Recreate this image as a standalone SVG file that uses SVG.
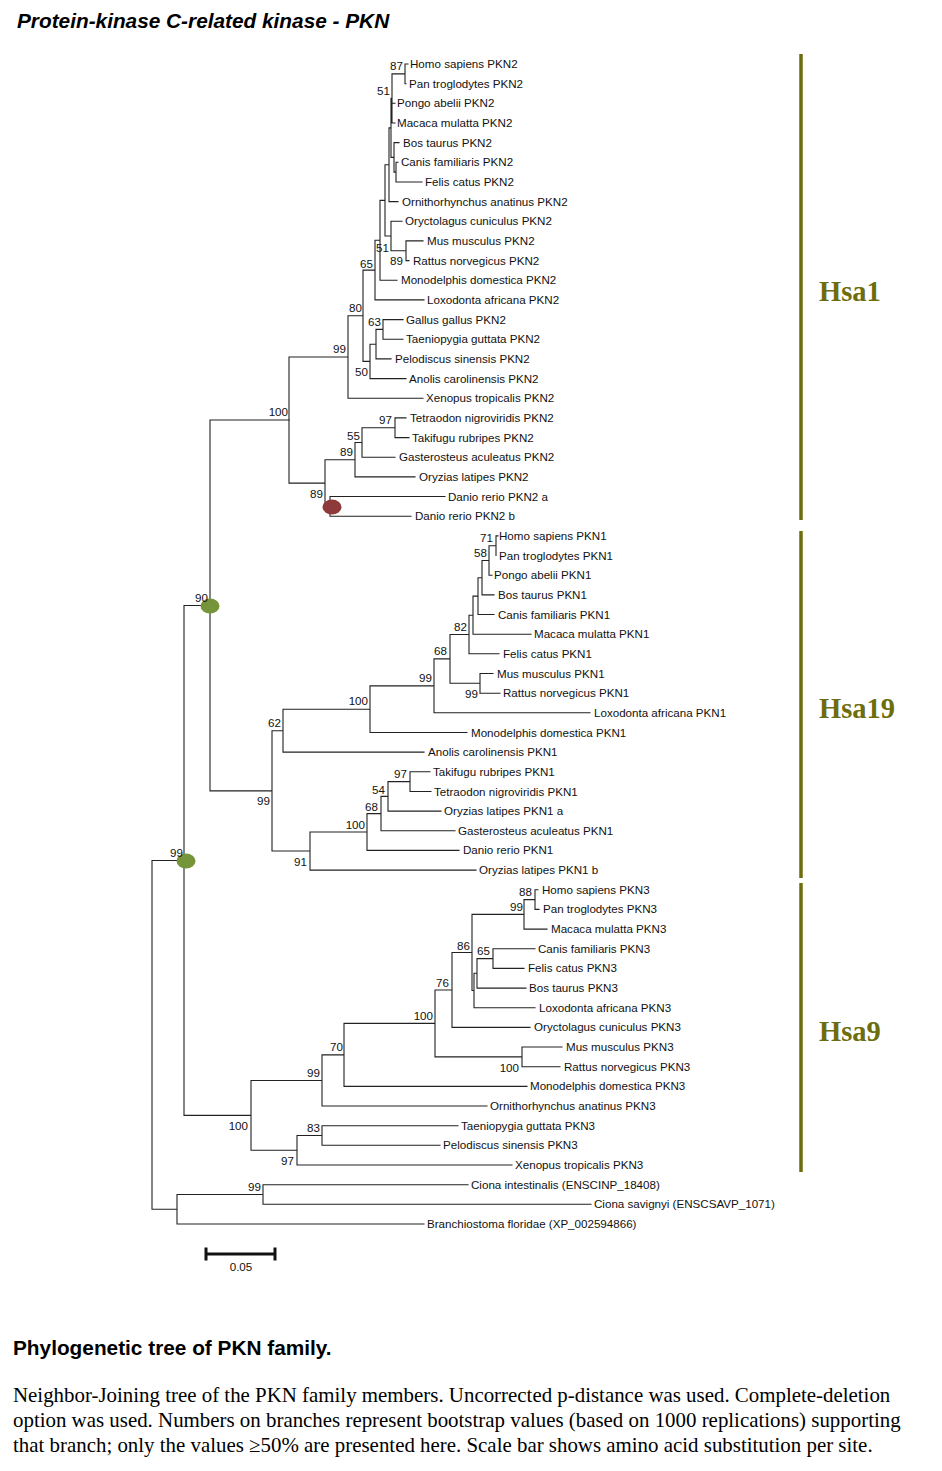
<svg xmlns="http://www.w3.org/2000/svg" width="942" height="1471" viewBox="0 0 942 1471">
<style>
.br{fill:none;stroke:#222;stroke-width:1.1;stroke-linecap:square}
.lf{font-family:"Liberation Sans",Arial,sans-serif;font-size:11.6px;fill:#111}
.bs{font-family:"Liberation Sans",Arial,sans-serif;font-size:11.6px;fill:#111;text-anchor:end}
.hsa{font-family:"Liberation Serif","Times New Roman",serif;font-weight:bold;font-size:28.5px;fill:#6e6d0e}
.bar{stroke:#6e6d0e;stroke-width:3.5}
.cap{font-family:"Liberation Serif","Times New Roman",serif;font-size:20.9px;fill:#000}
</style>
<rect width="942" height="1471" fill="#fff"/>
<text x="17" y="28" font-family="Liberation Sans, Arial, sans-serif" font-size="20.8" font-weight="bold" font-style="italic">Protein-kinase C-related kinase - PKN</text>

<g id="connectors">
<path class="br" d="M405 64V83.7M405 64H408M405 83.7H406
M392 73.9V123M392 73.9H405M392 103.3H395M392 123H395
M396 162.3V182M396 162.3H398M396 182H422
M394 142.6V172.1M394 142.6H399M394 172.1H396
M391 98.4V157.4M391 98.4H392M391 157.4H394
M389 127.9V201.6M389 127.9H391M389 201.6H398
M406 240.9V260.6M406 240.9H423M406 260.6H409
M391 221.3V250.8M391 221.3H402M391 250.8H406
M385 164.8V236M385 164.8H389M385 236H391
M380 200.4V280.3M380 200.4H385M380 280.3H397
M375 240.3V299.9M375 240.3H380M375 299.9H424
M383 319.6V339.3M383 319.6H403M383 339.3H403
M376 329.4V358.9M376 329.4H383M376 358.9H391
M370 344.2V378.6M370 344.2H376M370 378.6H406
M363 270.1V361.4M363 270.1H375M363 361.4H370
M348 315.8V398.2M348 315.8H363M348 398.2H423
M395 417.9V437.6M395 417.9H406M395 437.6H409
M362 427.7V457.2M362 427.7H395M362 457.2H395
M355 442.5V476.9M355 442.5H362M355 476.9H415
M330 496.5V516.2M330 496.5H445M330 516.2H411
M325 459.7V506.4M325 459.7H355M325 506.4H330
M289 357V483.1M289 357H348M289 483.1H325"/>
<path class="br" d="M496 535.9V555.5M496 535.9H498
M489 545.7V575.2M489 545.7H496M489 575.2H492
M482 560.5V594.9M482 560.5H489M482 594.9H494
M478 577.7V614.5M478 577.7H482M478 614.5H494
M473 596.1V634.2M473 596.1H478M473 634.2H531
M469 615.2V653.8M469 615.2H473M469 653.8H499
M480 673.5V693.2M480 673.5H493M480 693.2H500
M450 634.5V683.3M450 634.5H469M450 683.3H480
M434 658.9V712.8M434 658.9H450M434 712.8H590
M370 685.9V732.5M370 685.9H434M370 732.5H467
M283 709.2V752.1M283 709.2H370M283 752.1H424
M410 771.8V791.5M410 771.8H430M410 791.5H431
M388 781.6V811.1M388 781.6H410M388 811.1H441
M381 796.4V830.8M381 796.4H388M381 830.8H455
M367 813.6V850.4M367 813.6H381M367 850.4H459
M310 832V870.1M310 832H367M310 870.1H476
M272 730.7V851M272 730.7H283M272 851H310
M210 420V790.9M210 420H289M210 790.9H272"/>
<path class="br" d="M535 889.8V909.4M535 889.8H538M535 909.4H539
M524 899.6V929.1M524 899.6H535M524 929.1H547
M493 948.7V968.4M493 948.7H535M493 968.4H524
M477 958.6V988.1M477 958.6H493M477 988.1H526
M474 973.3V1007.7M474 973.3H477M474 1007.7H535
M472 914.4V990.5M472 914.4H524M472 990.5H474
M452 952.5V1027.4M452 952.5H472M452 1027.4H530
M522 1047V1066.7M522 1047H562M522 1066.7H560
M435 990V1056.9M435 990H452M435 1056.9H522
M344 1023.4V1086.4M344 1023.4H435M344 1086.4H527
M322 1054.9V1106M322 1054.9H344M322 1106H487
M322 1125.7V1145.3M322 1125.7H458M322 1145.3H440
M297 1135.5V1165M297 1135.5H322M297 1165H512
M251 1080.5V1150.3M251 1080.5H322M251 1150.3H297
M184 605.5V1115.4M184 605.5H210M184 1115.4H251
M263 1184.7V1204.3M263 1184.7H468M263 1204.3H591
M177 1194.5V1224M177 1194.5H263M177 1224H424
M152 860.5V1209.2M152 860.5H184M152 1209.2H177"/>
</g>

<g id="node-markers">
<ellipse cx="332" cy="507" rx="9.5" ry="7.5" fill="#8e3a3a"/>
<ellipse cx="210" cy="606" rx="9.5" ry="7.5" fill="#76953a"/>
<ellipse cx="186" cy="861" rx="9.5" ry="7.5" fill="#76953a"/>
</g>

<g id="bootstrap">
<text class="bs" x="403" y="70">87</text>
<text class="bs" x="390" y="95">51</text>
<text class="bs" x="389" y="252">51</text>
<text class="bs" x="403" y="265">89</text>
<text class="bs" x="373" y="268">65</text>
<text class="bs" x="362" y="312">80</text>
<text class="bs" x="381" y="326">63</text>
<text class="bs" x="346" y="353">99</text>
<text class="bs" x="368" y="376">50</text>
<text class="bs" x="288" y="416">100</text>
<text class="bs" x="392" y="424">97</text>
<text class="bs" x="360" y="440">55</text>
<text class="bs" x="353" y="456">89</text>
<text class="bs" x="323" y="498">89</text>
<text class="bs" x="208" y="602">90</text>
<text class="bs" x="493" y="542">71</text>
<text class="bs" x="487" y="557">58</text>
<text class="bs" x="467" y="631">82</text>
<text class="bs" x="447" y="655">68</text>
<text class="bs" x="478" y="698">99</text>
<text class="bs" x="432" y="682">99</text>
<text class="bs" x="368" y="705">100</text>
<text class="bs" x="281" y="727">62</text>
<text class="bs" x="407" y="778">97</text>
<text class="bs" x="385" y="794">54</text>
<text class="bs" x="378" y="811">68</text>
<text class="bs" x="365" y="829">100</text>
<text class="bs" x="270" y="805">99</text>
<text class="bs" x="307" y="866">91</text>
<text class="bs" x="183" y="857">99</text>
<text class="bs" x="532" y="896">88</text>
<text class="bs" x="523" y="911">99</text>
<text class="bs" x="470" y="950">86</text>
<text class="bs" x="490" y="955">65</text>
<text class="bs" x="449" y="987">76</text>
<text class="bs" x="433" y="1020">100</text>
<text class="bs" x="519" y="1072">100</text>
<text class="bs" x="343" y="1051">70</text>
<text class="bs" x="320" y="1077">99</text>
<text class="bs" x="248" y="1130">100</text>
<text class="bs" x="320" y="1132">83</text>
<text class="bs" x="294" y="1165">97</text>
<text class="bs" x="261" y="1191">99</text>
</g>

<g id="leaf-hsa-pkn2"><text class="lf" x="410" y="68">Homo sapiens PKN2</text></g>
<g id="leaf-ptr-pkn2"><text class="lf" x="409" y="87.7">Pan troglodytes PKN2</text></g>
<g id="leaf-pab-pkn2"><text class="lf" x="397" y="107.3">Pongo abelii PKN2</text></g>
<g id="leaf-mmu-pkn2"><text class="lf" x="397" y="127">Macaca mulatta PKN2</text></g>
<g id="leaf-bta-pkn2"><text class="lf" x="403" y="146.6">Bos taurus PKN2</text></g>
<g id="leaf-cfa-pkn2"><text class="lf" x="401" y="166.3">Canis familiaris PKN2</text></g>
<g id="leaf-fca-pkn2"><text class="lf" x="425" y="186">Felis catus PKN2</text></g>
<g id="leaf-oan-pkn2"><text class="lf" x="402" y="205.6">Ornithorhynchus anatinus PKN2</text></g>
<g id="leaf-ocu-pkn2"><text class="lf" x="405" y="225.3">Oryctolagus cuniculus PKN2</text></g>
<g id="leaf-mus-pkn2"><text class="lf" x="427" y="244.9">Mus musculus PKN2</text></g>
<g id="leaf-rno-pkn2"><text class="lf" x="413" y="264.6">Rattus norvegicus PKN2</text></g>
<g id="leaf-mdo-pkn2"><text class="lf" x="401" y="284.3">Monodelphis domestica PKN2</text></g>
<g id="leaf-laf-pkn2"><text class="lf" x="427" y="303.9">Loxodonta africana PKN2</text></g>
<g id="leaf-gga-pkn2"><text class="lf" x="406" y="323.6">Gallus gallus PKN2</text></g>
<g id="leaf-tgu-pkn2"><text class="lf" x="406" y="343.3">Taeniopygia guttata PKN2</text></g>
<g id="leaf-psi-pkn2"><text class="lf" x="395" y="362.9">Pelodiscus sinensis PKN2</text></g>
<g id="leaf-aca-pkn2"><text class="lf" x="409" y="382.6">Anolis carolinensis PKN2</text></g>
<g id="leaf-xtr-pkn2"><text class="lf" x="426" y="402.2">Xenopus tropicalis PKN2</text></g>
<g id="leaf-tni-pkn2"><text class="lf" x="410" y="421.9">Tetraodon nigroviridis PKN2</text></g>
<g id="leaf-tru-pkn2"><text class="lf" x="412" y="441.6">Takifugu rubripes PKN2</text></g>
<g id="leaf-gac-pkn2"><text class="lf" x="399" y="461.2">Gasterosteus aculeatus PKN2</text></g>
<g id="leaf-ola-pkn2"><text class="lf" x="419" y="480.9">Oryzias latipes PKN2</text></g>
<g id="leaf-dre-pkn2a"><text class="lf" x="448" y="500.5">Danio rerio PKN2 a</text></g>
<g id="leaf-dre-pkn2b"><text class="lf" x="415" y="520.2">Danio rerio PKN2 b</text></g>

<g id="leaf-hsa-pkn1"><text class="lf" x="499" y="539.9">Homo sapiens PKN1</text></g>
<g id="leaf-ptr-pkn1"><text class="lf" x="499" y="559.5">Pan troglodytes PKN1</text></g>
<g id="leaf-pab-pkn1"><text class="lf" x="494" y="579.2">Pongo abelii PKN1</text></g>
<g id="leaf-bta-pkn1"><text class="lf" x="498" y="598.9">Bos taurus PKN1</text></g>
<g id="leaf-cfa-pkn1"><text class="lf" x="498" y="618.5">Canis familiaris PKN1</text></g>
<g id="leaf-mmu-pkn1"><text class="lf" x="534" y="638.2">Macaca mulatta PKN1</text></g>
<g id="leaf-fca-pkn1"><text class="lf" x="503" y="657.8">Felis catus PKN1</text></g>
<g id="leaf-mus-pkn1"><text class="lf" x="497" y="677.5">Mus musculus PKN1</text></g>
<g id="leaf-rno-pkn1"><text class="lf" x="503" y="697.2">Rattus norvegicus PKN1</text></g>
<g id="leaf-laf-pkn1"><text class="lf" x="594" y="716.8">Loxodonta africana PKN1</text></g>
<g id="leaf-mdo-pkn1"><text class="lf" x="471" y="736.5">Monodelphis domestica PKN1</text></g>
<g id="leaf-aca-pkn1"><text class="lf" x="428" y="756.1">Anolis carolinensis PKN1</text></g>
<g id="leaf-tru-pkn1"><text class="lf" x="433" y="775.8">Takifugu rubripes PKN1</text></g>
<g id="leaf-tni-pkn1"><text class="lf" x="434" y="795.5">Tetraodon nigroviridis PKN1</text></g>
<g id="leaf-ola-pkn1a"><text class="lf" x="444" y="815.1">Oryzias latipes PKN1 a</text></g>
<g id="leaf-gac-pkn1"><text class="lf" x="458" y="834.8">Gasterosteus aculeatus PKN1</text></g>
<g id="leaf-dre-pkn1"><text class="lf" x="463" y="854.4">Danio rerio PKN1</text></g>
<g id="leaf-ola-pkn1b"><text class="lf" x="479" y="874.1">Oryzias latipes PKN1 b</text></g>

<g id="leaf-hsa-pkn3"><text class="lf" x="542" y="893.8">Homo sapiens PKN3</text></g>
<g id="leaf-ptr-pkn3"><text class="lf" x="543" y="913.4">Pan troglodytes PKN3</text></g>
<g id="leaf-mmu-pkn3"><text class="lf" x="551" y="933.1">Macaca mulatta PKN3</text></g>
<g id="leaf-cfa-pkn3"><text class="lf" x="538" y="952.7">Canis familiaris PKN3</text></g>
<g id="leaf-fca-pkn3"><text class="lf" x="528" y="972.4">Felis catus PKN3</text></g>
<g id="leaf-bta-pkn3"><text class="lf" x="529" y="992.1">Bos taurus PKN3</text></g>
<g id="leaf-laf-pkn3"><text class="lf" x="539" y="1011.7">Loxodonta africana PKN3</text></g>
<g id="leaf-ocu-pkn3"><text class="lf" x="534" y="1031.4">Oryctolagus cuniculus PKN3</text></g>
<g id="leaf-mus-pkn3"><text class="lf" x="566" y="1051">Mus musculus PKN3</text></g>
<g id="leaf-rno-pkn3"><text class="lf" x="564" y="1070.7">Rattus norvegicus PKN3</text></g>
<g id="leaf-mdo-pkn3"><text class="lf" x="530" y="1090.4">Monodelphis domestica PKN3</text></g>
<g id="leaf-oan-pkn3"><text class="lf" x="490" y="1110">Ornithorhynchus anatinus PKN3</text></g>
<g id="leaf-tgu-pkn3"><text class="lf" x="461" y="1129.7">Taeniopygia guttata PKN3</text></g>
<g id="leaf-psi-pkn3"><text class="lf" x="443" y="1149.3">Pelodiscus sinensis PKN3</text></g>
<g id="leaf-xtr-pkn3"><text class="lf" x="515" y="1169">Xenopus tropicalis PKN3</text></g>
<g id="leaf-cin"><text class="lf" x="471" y="1188.7">Ciona intestinalis (ENSCINP_18408)</text></g>
<g id="leaf-csa"><text class="lf" x="594" y="1208.3">Ciona savignyi (ENSCSAVP_1071)</text></g>
<g id="leaf-bfl"><text class="lf" x="427" y="1228">Branchiostoma floridae (XP_002594866)</text></g>

<g id="scale-bar">
<path d="M206 1254H275M206 1247.5V1260.5M275 1247.5V1260.5" stroke="#111" stroke-width="3" fill="none"/>
<text class="lf" x="241" y="1271" text-anchor="middle" font-size="11">0.05</text>
</g>

<g id="hsa1"><line class="bar" x1="801" y1="54" x2="801" y2="520"/><text class="hsa" x="819" y="301">Hsa1</text></g>
<g id="hsa19"><line class="bar" x1="801" y1="531" x2="801" y2="878"/><text class="hsa" x="819" y="718">Hsa19</text></g>
<g id="hsa9"><line class="bar" x1="801" y1="883" x2="801" y2="1172"/><text class="hsa" x="819" y="1041">Hsa9</text></g>

<g id="caption">
<text x="13" y="1355" font-family="Liberation Sans, Arial, sans-serif" font-size="20.8" font-weight="bold">Phylogenetic tree of PKN family.</text>
<text class="cap" x="13" y="1402">Neighbor-Joining tree of the PKN family members. Uncorrected p-distance was used. Complete-deletion</text>
<text class="cap" x="13" y="1427">option was used. Numbers on branches represent bootstrap values (based on 1000 replications) supporting</text>
<text class="cap" x="13" y="1452">that branch; only the values ≥50% are presented here. Scale bar shows amino acid substitution per site.</text>
</g>
</svg>
